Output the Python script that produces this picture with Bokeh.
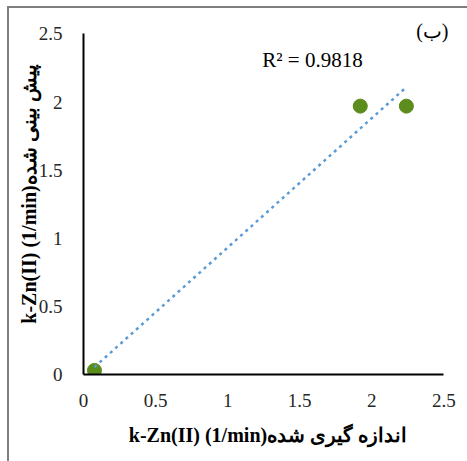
import numpy as np
from bokeh.plotting import figure
from bokeh.models import Label, FixedTicker
from bokeh.embed import file_html
from bokeh.resources import INLINE

# data
measured = [0.076, 1.92, 2.24]
predicted = [0.03, 1.97, 1.97]
ticks = [0, 0.5, 1, 1.5, 2, 2.5]
r2_text = "R\u00b2 = 0.9818"
panel_text = "(\u0628)"
x_title = "k-Zn(II) (1/min)\u0627\u0646\u062f\u0627\u0632\u0647 \u06af\u06cc\u0631\u06cc \u0634\u062f\u0647"
y_title = "k-Zn(II) (1/min)\u067e\u06cc\u0634 \u0628\u06cc\u0646\u06cc \u0634\u062f\u0647"

FONT = "Liberation Serif"

p = figure(width=467, height=461, output_backend="svg", toolbar_location=None,
           x_range=(0, 2.56), y_range=(0, 2.65),
           min_border_left=83, min_border_right=15, min_border_top=13, min_border_bottom=87)
p.outline_line_color = None
p.xgrid.visible = False
p.ygrid.visible = False
p.background_fill_color = "white"
p.border_fill_color = None
p.styles = {
    "background": ("linear-gradient(#7f7f7f, #7f7f7f) 7px 6px / 2px 100% no-repeat, "
                   "linear-gradient(#7f7f7f, #7f7f7f) 7px 6px / 100% 2px no-repeat, white"),
}

for ax in (p.xaxis[0], p.yaxis[0]):
    ax.ticker = FixedTicker(ticks=ticks)
    ax.bounds = (0, 2.5)
    ax.axis_line_color = "black"
    ax.axis_line_width = 2
    ax.major_tick_line_color = None
    ax.minor_tick_line_color = None
    ax.major_label_text_font = FONT
    ax.major_label_text_font_size = "19px"
    ax.major_label_text_color = "#262626"
    ax.axis_label_text_font = FONT
    ax.axis_label_text_font_size = "20px"
    ax.axis_label_text_font_style = "bold"
    ax.axis_label_text_color = "black"

p.xaxis[0].axis_label = x_title
p.yaxis[0].axis_label = y_title
p.xaxis[0].major_label_standoff = 13
p.xaxis[0].axis_label_standoff = 14
p.yaxis[0].major_label_standoff = 15
p.yaxis[0].axis_label_standoff = -4

# points
p.scatter(measured, predicted, size=14, fill_color="#5b8c1c", line_color="#5b8c1c")

# linear trendline (least squares fit of the data)
m, b = np.polyfit(measured, predicted, 1)
xs = [min(measured), max(measured)]
ys = [m * x + b for x in xs]
p.line(xs, ys, line_color="#5b9bd5", line_width=2.5, line_dash="3 4", line_cap="butt")

p.add_layout(Label(x=1.24, y=2.31, text=r2_text, text_font=FONT, text_font_size="21px",
                   text_baseline="middle", text_align="left", text_color="black"))
p.add_layout(Label(x=2.42, y=2.52, text=panel_text, text_font=FONT, text_font_size="20px",
                   text_baseline="middle", text_align="center", text_color="black"))

open("out.html", "w").write(file_html(p, INLINE))
